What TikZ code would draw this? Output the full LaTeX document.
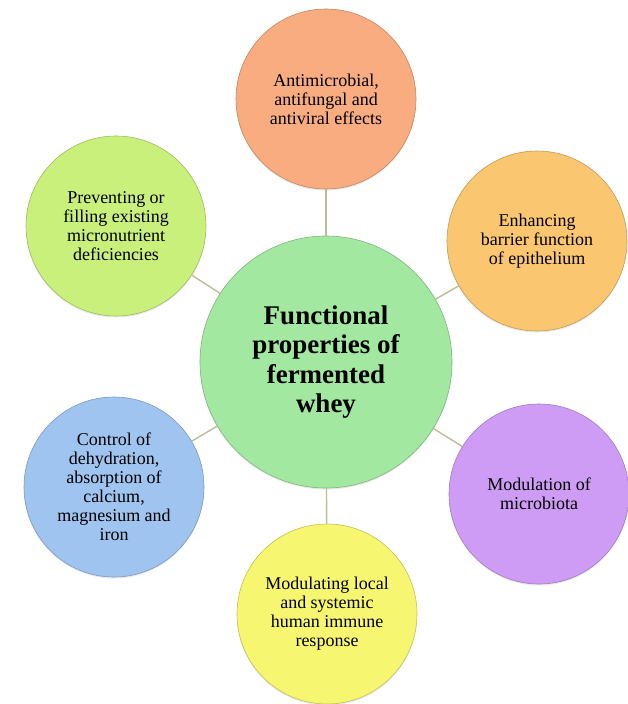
\documentclass[tikz,border=0pt]{standalone}
\usepackage{fontspec}
\setmainfont{Liberation Serif}
\usetikzlibrary{shadows}

\definecolor{hubgreen}{RGB}{163,232,160}
\definecolor{peach}{RGB}{248,172,128}
\definecolor{apricot}{RGB}{250,198,112}
\definecolor{lilac}{RGB}{206,156,245}
\definecolor{lemon}{RGB}{247,246,112}
\definecolor{skyblue}{RGB}{160,196,240}
\definecolor{lime}{RGB}{202,240,124}
\definecolor{linkgray}{RGB}{190,188,150}

\begin{document}
\begin{tikzpicture}[
    x=1pt, y=-1pt,
    % circles around the hub
    bubble/.style={circle, draw=#1!78!black, fill=#1, line width=0.6pt,
                   minimum size=180pt, inner sep=0pt, align=center,
                   font=\fontsize{18}{19}\selectfont,
                   drop shadow={opacity=0.18, shadow xshift=0pt, shadow yshift=-1.5pt}},
    hub/.style={bubble=hubgreen, minimum size=252pt,
                font=\fontsize{27}{29.5}\selectfont\bfseries},
    link/.style={draw=linkgray, line width=1.4pt}
]

% page frame
\useasboundingbox (0,0) rectangle (627,704);

% central circle
\node[hub] (hub) at (326,362) {Functional\\properties of\\fermented\\whey};

% outer circles, clockwise from the top
\node[bubble=peach] (anti) at (326,99)
    {Antimicrobial,\\antifungal and\\antiviral effects};
\node[bubble=apricot] (barrier) at (537,241)
    {Enhancing\\barrier function\\of epithelium};
\node[bubble=lilac] (micro) at (539,494)
    {Modulation of\\microbiota};
\node[bubble=lemon] (immune) at (327,614)
    {Modulating local\\and systemic\\human immune\\response};
\node[bubble=skyblue] (dehyd) at (114,487)
    {Control of\\dehydration,\\absorption of\\calcium,\\magnesium and\\iron};
\node[bubble=lime] (deficit) at (116,226)
    {Preventing or\\filling existing\\micronutrient\\deficiencies};

% spokes
\foreach \n in {anti,barrier,micro,immune,dehyd,deficit}
    \draw[link] (hub) -- (\n);

\end{tikzpicture}
\end{document}
